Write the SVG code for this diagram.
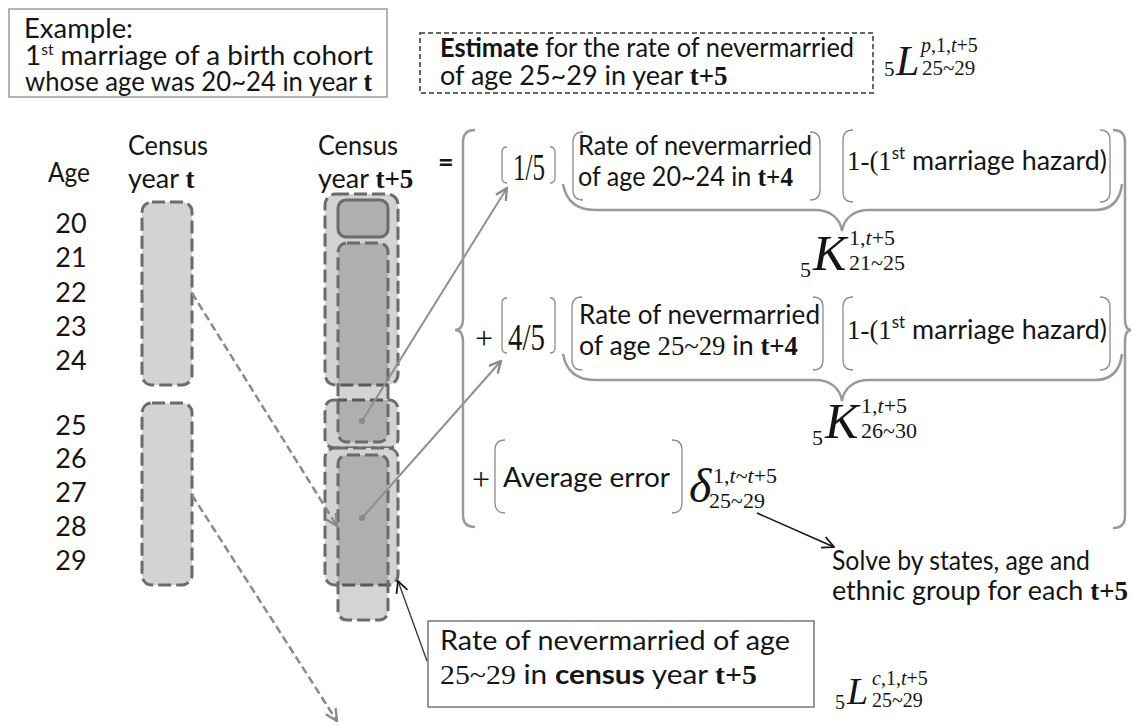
<svg xmlns="http://www.w3.org/2000/svg" width="1132" height="725" viewBox="0 0 1132 725">
<defs>
<style>
.s{font-family:Lato,'Liberation Sans',sans-serif;fill:#151515;font-size:27px}
.m{font-family:'Liberation Serif','DejaVu Serif',serif;fill:#151515}
.b{font-weight:bold}
.i{font-style:italic}
.tb{font-family:'Liberation Serif','DejaVu Serif',serif;font-weight:bold}
.br{fill:none;stroke:#8c8c8c;stroke-width:1.3}
.brace{fill:none;stroke:#9a9a9a;stroke-width:2.5}
.col{fill:#d3d3d3;stroke:#6b6b6b;stroke-width:3;stroke-dasharray:13 5}
.inn{fill:#000;fill-opacity:0.17;stroke:#6b6b6b;stroke-width:3;stroke-dasharray:13 5}
.dash{fill:none;stroke:#8a8a8a;stroke-width:2.5;stroke-dasharray:8 4}
.sol{fill:none;stroke:#8f8f8f;stroke-width:2}
</style>
<marker id="ag" viewBox="0 0 12 12" refX="11" refY="6" markerWidth="14" markerHeight="14" markerUnits="userSpaceOnUse" orient="auto">
<path d="M1,1 L11,6 L1,11" fill="none" stroke="#8a8a8a" stroke-width="2"/>
</marker>
<marker id="ak" viewBox="0 0 12 12" refX="11" refY="6" markerWidth="14" markerHeight="14" markerUnits="userSpaceOnUse" orient="auto">
<path d="M1,1 L11,6 L1,11" fill="none" stroke="#111" stroke-width="1.5"/>
</marker>
<marker id="dot" viewBox="0 0 6 6" refX="3" refY="3" markerWidth="6" markerHeight="6" markerUnits="userSpaceOnUse">
<circle cx="3" cy="3" r="3" fill="#888"/>
</marker>
</defs>
<rect width="1132" height="725" fill="#fff"/>

<g id="example">
<rect x="9" y="9" width="378" height="88" fill="#fff" stroke="#9a9a9a" stroke-width="1.5"/>
<text class="s" x="24" y="38" font-size="25" textLength="109" lengthAdjust="spacingAndGlyphs">Example:</text>
<text class="s" x="25" y="65" font-size="25" textLength="348" lengthAdjust="spacingAndGlyphs">1<tspan font-size="15" dy="-10">st</tspan><tspan dy="10"> marriage of a birth cohort</tspan></text>
<text class="s" x="25" y="91" font-size="25" textLength="347" lengthAdjust="spacingAndGlyphs">whose age was 20~24 in year <tspan class="tb">t</tspan></text>
</g>

<g id="estimate">
<rect x="420" y="33" width="453" height="60" fill="#fff" stroke="#666" stroke-width="2" stroke-dasharray="5 3"/>
<text class="s" x="440" y="57" textLength="414" lengthAdjust="spacingAndGlyphs"><tspan class="b">Estimate</tspan> for the rate of nevermarried</text>
<text class="s" x="440" y="85">of age 25~29 in year <tspan class="tb">t+5</tspan></text>
</g>
<g id="formula-Lp">
<text class="m" x="884" y="76" font-size="21">5</text>
<text class="m i" x="896" y="75" font-size="42">L</text>
<text class="m" x="921" y="52" font-size="20"><tspan class="i">p</tspan>,1,<tspan class="i">t</tspan>+5</text>
<text class="m" x="922" y="75" font-size="21">25~29</text>
</g>

<g id="headers">
<text class="s" x="48" y="182" textLength="42" lengthAdjust="spacingAndGlyphs">Age</text>
<text class="s" x="128" y="155" textLength="80" lengthAdjust="spacingAndGlyphs">Census</text>
<text class="s" x="128" y="188">year <tspan class="tb">t</tspan></text>
<text class="s" x="318" y="155" textLength="80" lengthAdjust="spacingAndGlyphs">Census</text>
<text class="s" x="318" y="188">year <tspan class="tb">t+5</tspan></text>
</g>

<g id="ages" class="s" text-anchor="middle">
<text x="71" y="233">20</text>
<text x="71" y="267">21</text>
<text x="71" y="302">22</text>
<text x="71" y="336">23</text>
<text x="71" y="370">24</text>
<text x="71" y="435">25</text>
<text x="71" y="468">26</text>
<text x="71" y="502">27</text>
<text x="71" y="536">28</text>
<text x="71" y="570">29</text>
</g>

<g id="census-t">
<rect class="col" x="142" y="202" width="50" height="183" rx="10"/>
<rect class="col" x="142" y="403" width="50" height="182" rx="10"/>
</g>

<g id="census-t5">
<rect class="col" x="325" y="194" width="73" height="191" rx="11"/>
<rect class="col" x="325" y="400" width="73" height="48" rx="9"/>
<rect class="col" x="325" y="448" width="73" height="137" rx="10"/>
<rect class="inn" x="338" y="243" width="50" height="199" rx="9"/>
<rect class="inn" x="338" y="455" width="50" height="165" rx="9"/>
<rect x="338" y="200" width="50" height="37" rx="8" fill="#000" fill-opacity="0.17" stroke="#6b6b6b" stroke-width="3"/>
</g>

<g id="connectors">
<line class="dash" x1="192" y1="293" x2="337" y2="526" marker-end="url(#ag)"/>
<line class="dash" x1="192" y1="495" x2="337" y2="721" marker-end="url(#ag)"/>
<line class="sol" x1="362" y1="421" x2="507" y2="188" marker-start="url(#dot)" marker-end="url(#ag)"/>
<line class="sol" x1="362" y1="518" x2="501" y2="361" marker-start="url(#dot)" marker-end="url(#ag)"/>
<line x1="427" y1="661" x2="398" y2="581" stroke="#333" stroke-width="1.3" marker-end="url(#ak)"/>
<line x1="757" y1="513" x2="834" y2="547" stroke="#111" stroke-width="1.5" marker-end="url(#ak)"/>
</g>

<g id="equals">
<text class="s b" x="438" y="171" font-size="30">=</text>
</g>

<g id="big-braces">
<path class="brace" stroke="#8c8c8c" stroke-width="2" d="M475 130 Q463 130 463 142 L463 318 Q463 330 455 330 Q463 330 463 342 L463 515 Q463 527 475 527"/>
<path class="brace" stroke="#8c8c8c" stroke-width="2" d="M1113 130 Q1125 130 1125 142 L1125 318 Q1125 330 1131 330 Q1125 330 1125 342 L1125 516 Q1125 528 1113 528"/>
</g>

<g id="row1">
<path class="br" d="M507 147 Q502 147 502 152 L502 178 Q502 183 507 183 M550 147 Q555 147 555 152 L555 178 Q555 183 550 183"/>
<text class="m" x="513" y="180" font-size="38" textLength="32" lengthAdjust="spacingAndGlyphs">1/5</text>
<path class="br" d="M583 132 Q573 132 573 142 L573 190 Q573 200 583 200 M810 132 Q820 132 820 142 L820 190 Q820 200 810 200"/>
<text class="s" x="578" y="155" font-size="26" textLength="234" lengthAdjust="spacingAndGlyphs">Rate of nevermarried</text>
<text class="s" x="578" y="186" font-size="26" textLength="215" lengthAdjust="spacingAndGlyphs">of age 20~24 in <tspan class="tb">t+4</tspan></text>
<path class="br" d="M853 130 Q843 130 843 140 L843 192 Q843 202 853 202 M1100 130 Q1110 130 1110 140 L1110 192 Q1110 202 1100 202"/>
<text class="s" x="847" y="170" textLength="260" lengthAdjust="spacingAndGlyphs"><tspan class="m">1-(1</tspan><tspan font-size="17" dy="-11">st</tspan><tspan dy="11"> marriage hazard)</tspan></text>
<path class="brace" d="M563 184 C566 200 575 210 595 210 L815 210 C830 210 840 218 842 231 C844 218 854 210 869 210 L1095 210 C1112 210 1120 200 1122 184"/>
</g>
<g id="formula-K1">
<text class="m" x="800" y="277" font-size="22">5</text>
<text class="m i" x="813" y="270" font-size="50">K</text>
<text class="m" x="849" y="245" font-size="22">1,<tspan class="i">t</tspan>+5</text>
<text class="m" x="849" y="270" font-size="22">21~25</text>
</g>

<g id="row2">
<text class="m" x="475" y="349" font-size="32">+</text>
<path class="br" d="M507 298 Q502 298 502 303 L502 348 Q502 353 507 353 M550 298 Q555 298 555 303 L555 348 Q555 353 550 353"/>
<text class="m" x="508" y="350" font-size="38" textLength="37" lengthAdjust="spacingAndGlyphs">4/5</text>
<path class="br" d="M582 297 Q572 297 572 307 L572 360 Q572 370 582 370 M813 297 Q823 297 823 307 L823 360 Q823 370 813 370"/>
<text class="s" x="579" y="324" font-size="26" textLength="241" lengthAdjust="spacingAndGlyphs">Rate of nevermarried</text>
<text class="s" x="579" y="355" font-size="26" textLength="219" lengthAdjust="spacingAndGlyphs">of age <tspan class="m">25~29</tspan> in <tspan class="tb">t+4</tspan></text>
<path class="br" d="M853 297 Q843 297 843 307 L843 360 Q843 370 853 370 M1100 297 Q1110 297 1110 307 L1110 360 Q1110 370 1100 370"/>
<text class="s" x="847" y="339" textLength="260" lengthAdjust="spacingAndGlyphs"><tspan class="m">1-(1</tspan><tspan font-size="17" dy="-11">st</tspan><tspan dy="11"> marriage hazard)</tspan></text>
<path class="brace" d="M563 354 C566 370 575 380 595 380 L815 380 C830 380 840 388 842 401 C844 388 854 380 869 380 L1095 380 C1112 380 1120 370 1122 354"/>
</g>
<g id="formula-K2">
<text class="m" x="812" y="445" font-size="22">5</text>
<text class="m i" x="825" y="438" font-size="50">K</text>
<text class="m" x="861" y="413" font-size="22">1,<tspan class="i">t</tspan>+5</text>
<text class="m" x="861" y="438" font-size="22">26~30</text>
</g>

<g id="row3">
<text class="m" x="472" y="490" font-size="32">+</text>
<path class="br" d="M505 440 Q495 440 495 450 L495 503 Q495 513 505 513 M672 440 Q682 440 682 450 L682 503 Q682 513 672 513"/>
<text class="s" x="503" y="487" textLength="167" lengthAdjust="spacingAndGlyphs">Average error</text>
</g>
<g id="formula-delta">
<text class="m i" x="689" y="502" font-size="48">δ</text>
<text class="m" x="713" y="483" font-size="22">1,<tspan class="i">t</tspan>~<tspan class="i">t</tspan>+5</text>
<text class="m" x="709" y="508" font-size="22">25~29</text>
</g>

<g id="solve">
<text class="s" x="832" y="570" textLength="258" lengthAdjust="spacingAndGlyphs">Solve by states, age and</text>
<text class="s" x="832" y="600" textLength="296" lengthAdjust="spacingAndGlyphs">ethnic group for each <tspan class="tb">t+5</tspan></text>
</g>

<g id="census-box">
<rect x="428" y="621" width="386" height="86" fill="#fff" stroke="#777" stroke-width="1.5"/>
<text class="s" x="440" y="650" font-size="29" textLength="350" lengthAdjust="spacingAndGlyphs">Rate of nevermarried of age</text>
<text class="s" x="440" y="684" font-size="29" textLength="317" lengthAdjust="spacingAndGlyphs"><tspan class="m">25~29</tspan> in <tspan class="b">census</tspan> year <tspan class="tb">t+5</tspan></text>
</g>
<g id="formula-Lc">
<text class="m" x="835" y="709" font-size="20">5</text>
<text class="m i" x="847" y="704" font-size="38">L</text>
<text class="m" x="872" y="685" font-size="20"><tspan class="i">c</tspan>,1,<tspan class="i">t</tspan>+5</text>
<text class="m" x="872" y="707" font-size="20">25~29</text>
</g>
</svg>
